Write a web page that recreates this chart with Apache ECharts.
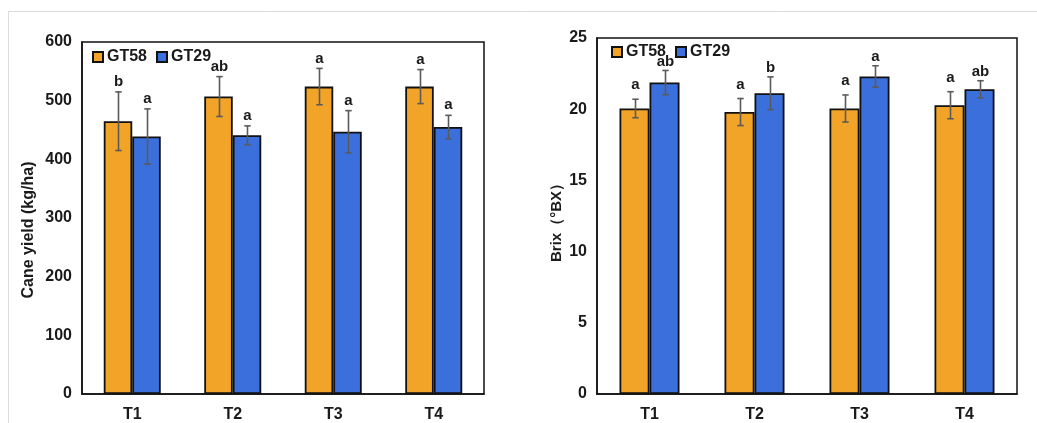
<!DOCTYPE html>
<html>
<head>
<meta charset="utf-8">
<script src="https://cdn.jsdelivr.net/npm/echarts@6/dist/echarts.min.js"></script>
<style>
  html, body { margin: 0; padding: 0; background: #fff; }
  #chart { width: 1037px; height: 423px; }
</style>
</head>
<body>
<div id="chart"></div>
<script>
// Treatments and varieties
const categories = ['T1', 'T2', 'T3', 'T4'];
const varieties = ['GT58', 'GT29'];

// Cane yield (kg/ha): means, standard errors, significance letters
const yieldGT58 = [465, 507, 524, 524];
const yieldGT58Err = [50, 34, 31, 29];
const yieldGT58Sig = ['b', 'ab', 'a', 'a'];
const yieldGT29 = [439, 441, 447, 455];
const yieldGT29Err = [47, 16, 36, 20];
const yieldGT29Sig = ['a', 'a', 'a', 'a'];

// Brix (°BX): means, standard errors, significance letters
const brixGT58 = [20.05, 19.8, 20.05, 20.28];
const brixGT58Err = [0.65, 0.95, 0.95, 0.95];
const brixGT58Sig = ['a', 'a', 'a', 'a'];
const brixGT29 = [21.87, 21.12, 22.3, 21.4];
const brixGT29Err = [0.85, 1.15, 0.75, 0.6];
const brixGT29Sig = ['ab', 'b', 'a', 'ab'];

// Axis ticks
const yieldTicks = { min: 0, max: 600, interval: 100 };
const brixTicks = { min: 0, max: 25, interval: 5 };

const COLORS = ['#F2A428', '#3B6FDC'];
const FONT = 'Liberation Sans, Arial, sans-serif';

const chart = echarts.init(document.getElementById('chart'));

// Error bar + letter drawn per bar; side = -1 (left bar) or +1 (right bar)
function errorSeries(gridIdx, means, errs, sigs, side, barW, letterGap) {
  const data = means.map((m, i) => [i, m, errs[i], sigs[i]]);
  return {
    type: 'custom',
    xAxisIndex: gridIdx,
    yAxisIndex: gridIdx,
    z: 10,
    silent: true,
    data: data,
    renderItem: function (params, api) {
      const i = api.value(0);
      const m = api.value(1);
      const e = api.value(2);
      const sig = data[params.dataIndex][3];
      const c = api.coord([i, m]);
      const x = Math.round(c[0] + side * barW / 2) + 0.5;
      const yTop = api.coord([i, m + e])[1];
      const yBot = api.coord([i, m - e])[1];
      const cap = 3.2;
      const st = { stroke: '#5a5a5a', lineWidth: 1.6 };
      return {
        type: 'group',
        children: [
          { type: 'line', shape: { x1: x, y1: yTop, x2: x, y2: yBot }, style: st },
          { type: 'line', shape: { x1: x - cap, y1: yTop, x2: x + cap, y2: yTop }, style: st },
          { type: 'line', shape: { x1: x - cap, y1: yBot, x2: x + cap, y2: yBot }, style: st },
          {
            type: 'text',
            style: {
              text: sig, x: x, y: yTop - letterGap,
              align: 'center', verticalAlign: 'middle',
              font: 'bold 15px ' + FONT, fill: '#1a1a1a'
            }
          }
        ]
      };
    }
  };
}

function barSeries(gridIdx, name, values, color, barW) {
  return {
    type: 'bar',
    name: name,
    xAxisIndex: gridIdx,
    yAxisIndex: gridIdx,
    data: values,
    barWidth: barW,
    barGap: '0%',
    itemStyle: { color: color, borderColor: '#111', borderWidth: 1.8 },
    emphasis: { disabled: true }
  };
}

const axisLabelStyle = { color: '#1a1a1a', fontFamily: FONT, fontWeight: 'bold', fontSize: 16 };

function xAxis(gridIdx) {
  return {
    type: 'category', gridIndex: gridIdx, data: categories,
    axisLine: { lineStyle: { color: '#111', width: 1.5 } },
    axisTick: { show: false },
    axisLabel: Object.assign({ margin: 13 }, axisLabelStyle)
  };
}

// shift: extra right padding on the rotated title, moving it down the axis by shift/2
function yAxis(gridIdx, ticks, name, gap, nameSize, shift) {
  return Object.assign({
    type: 'value', gridIndex: gridIdx,
    name: name, nameLocation: 'middle', nameGap: gap, nameRotate: 90,
    nameTextStyle: { color: '#1a1a1a', fontFamily: FONT, fontWeight: 'bold', fontSize: nameSize, padding: [0, shift, 0, 0] },
    axisLine: { show: true, lineStyle: { color: '#111', width: 1.5 } },
    axisTick: { show: false },
    splitLine: { show: false },
    axisLabel: Object.assign({ margin: 10 }, axisLabelStyle)
  }, ticks);
}

function legend(left, top) {
  return {
    left: left, top: top, orient: 'horizontal',
    data: varieties.map(v => ({ name: v })),
    icon: 'rect', itemWidth: 10, itemHeight: 10, itemGap: 9,
    textStyle: { color: '#1a1a1a', fontFamily: FONT, fontWeight: 'bold', fontSize: 16, padding: [0, 0, 0, -1] },
    selectedMode: false,
    padding: 0
  };
}

const BW_L = 28.5, BW_R = 30;

chart.setOption({
  animation: false,
  backgroundColor: '#fff',
  graphic: [
    { type: 'line', shape: { x1: 8, y1: 11.5, x2: 1037, y2: 11.5 }, style: { stroke: '#dcdcdc', lineWidth: 1 }, silent: true },
    { type: 'line', shape: { x1: 8.5, y1: 11, x2: 8.5, y2: 423 }, style: { stroke: '#dcdcdc', lineWidth: 1 }, silent: true }
  ],
  grid: [
    { left: 82, top: 42, width: 402, height: 354, show: true, borderColor: '#111', borderWidth: 1.5, backgroundColor: 'transparent' },
    { left: 597, top: 38, width: 420, height: 358, show: true, borderColor: '#111', borderWidth: 1.5, backgroundColor: 'transparent' }
  ],
  legend: [legend(92, 49), legend(611, 44)],
  xAxis: [xAxis(0), xAxis(1)],
  yAxis: [
    yAxis(0, yieldTicks, 'Cane yield (kg/ha)', 45, 16, 24),
    yAxis(1, brixTicks, 'Brix（°BX）', 33, 15, 6)
  ],
  series: [
    barSeries(0, 'GT58', yieldGT58, COLORS[0], BW_L),
    barSeries(0, 'GT29', yieldGT29, COLORS[1], BW_L),
    errorSeries(0, yieldGT58, yieldGT58Err, yieldGT58Sig, -1, BW_L, 10),
    errorSeries(0, yieldGT29, yieldGT29Err, yieldGT29Sig, 1, BW_L, 10),
    barSeries(1, 'GT58', brixGT58, COLORS[0], BW_R),
    barSeries(1, 'GT29', brixGT29, COLORS[1], BW_R),
    errorSeries(1, brixGT58, brixGT58Err, brixGT58Sig, -1, BW_R, 14),
    errorSeries(1, brixGT29, brixGT29Err, brixGT29Sig, 1, BW_R, 9)
  ]
});
</script>
</body>
</html>
